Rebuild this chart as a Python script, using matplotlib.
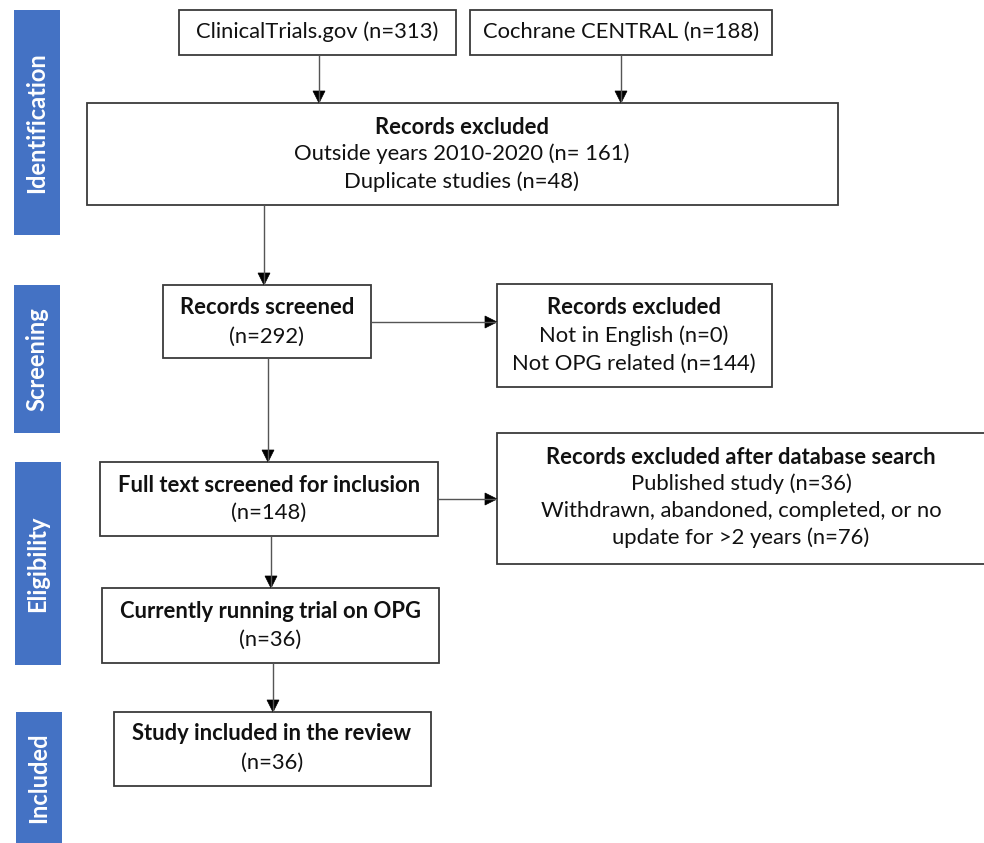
import matplotlib
matplotlib.use("Agg")
import matplotlib.pyplot as plt
from matplotlib.patches import Rectangle, Polygon

plt.rcParams['font.family'] = ['Lato', 'DejaVu Sans']

# ---- data ----
stages = ["Identification", "Screening", "Eligibility", "Included"]
source_names = ["ClinicalTrials.gov", "Cochrane CENTRAL"]
source_counts = [313, 188]
id_excluded_reasons = ["Outside years 2010-2020", "Duplicate studies"]
id_excluded_counts = ["n= 161", "n=48"]
screened_count = 292
scr_excluded_reasons = ["Not in English", "Not OPG related"]
scr_excluded_counts = [0, 144]
fulltext_count = 148
elig_excluded_lines = ["Published study (n=36)",
                       "Withdrawn, abandoned, completed, or no",
                       "update for >2 years (n=76)"]
running_count = 36
included_count = 36

W, H = 984, 843
fig = plt.figure(figsize=(W / 100, H / 100), dpi=100)
ax = fig.add_axes([0, 0, 1, 1])
ax.set_xlim(0, W)
ax.set_ylim(H, 0)
ax.axis('off')

BLUE = '#4472C4'
FS = 15.8
SIDE_FS = 17
EDGE = '#3a3a3a'

# stage side bars (x0, y0, x1, y1)
stage_bars = [(14, 10, 60, 235), (14, 285, 60, 433), (15, 462, 61, 665), (16, 712, 62, 850)]
for name, (x0, y0, x1, y1) in zip(stages, stage_bars):
    ax.add_patch(Rectangle((x0, y0), x1 - x0, y1 - y0, facecolor=BLUE, edgecolor='none'))
    cy = (y0 + min(y1, H)) / 2
    ax.text((x0 + x1) / 2, cy, name, rotation=90, ha='center', va='center',
            color='white', fontsize=SIDE_FS, fontweight='bold')


def box(x0, y0, x1, y1):
    ax.add_patch(Rectangle((x0, y0), x1 - x0, y1 - y0, facecolor='white',
                           edgecolor=EDGE, linewidth=1.3))


def lines(cx, ys, texts, bold_first=True):
    for i, (y, t) in enumerate(zip(ys, texts)):
        ax.text(cx, y, t, ha='center', va='center', fontsize=FS, color='#111111',
                fontweight='bold' if (bold_first and i == 0) else 'normal')


def arrow(x0, y0, x1, y1):
    ax.plot([x0, x1], [y0, y1], color='#555555', lw=1.0, solid_capstyle='butt')
    hl, hw = 12, 6
    if x0 == x1:  # vertical down
        tri = [(x1 - hw, y1 - hl), (x1 + hw, y1 - hl), (x1, y1)]
    else:  # horizontal right
        tri = [(x1 - hl, y1 - hw), (x1 - hl, y1 + hw), (x1, y1)]
    ax.add_patch(Polygon(tri, closed=True, facecolor='black', edgecolor='black', lw=0.5))


# sources
src_boxes = [(179, 10, 456, 55), (470, 10, 772, 55)]
for (x0, y0, x1, y1), nm, c in zip(src_boxes, source_names, source_counts):
    box(x0, y0, x1, y1)
    lines((x0 + x1) / 2, [32], [f"{nm} (n={c})"], bold_first=False)

# identification exclusion
box(87, 103, 838, 205)
lines(462, [127, 154, 182],
      ["Records excluded"] + [f"{r} ({c})" for r, c in zip(id_excluded_reasons, id_excluded_counts)])

# screening
box(163, 285, 371, 358)
lines(267, [308, 337], ["Records screened", f"(n={screened_count})"])

box(497, 284, 772, 387)
lines(634, [307, 336, 364],
      ["Records excluded"] + [f"{r} (n={c})" for r, c in zip(scr_excluded_reasons, scr_excluded_counts)])

# eligibility
box(100, 462, 438, 536)
lines(269, [485, 513], ["Full text screened for inclusion", f"(n={fulltext_count})"])

box(497, 433, 990, 564)
lines(741, [457, 484, 511, 538], ["Records excluded after database search"] + elig_excluded_lines)

box(102, 588, 439, 663)
lines(270, [612, 640], ["Currently running trial on OPG", f"(n={running_count})"])

# included
box(114, 712, 431, 786)
lines(272, [734, 763], ["Study included in the review", f"(n={included_count})"])

# arrows
arrow(319, 55, 319, 103)
arrow(621, 55, 621, 103)
arrow(264, 205, 264, 285)
arrow(371, 322, 497, 322)
arrow(268, 358, 268, 462)
arrow(438, 499, 497, 499)
arrow(271, 536, 271, 588)
arrow(273, 663, 273, 712)

fig.savefig('out.png', dpi=100)
